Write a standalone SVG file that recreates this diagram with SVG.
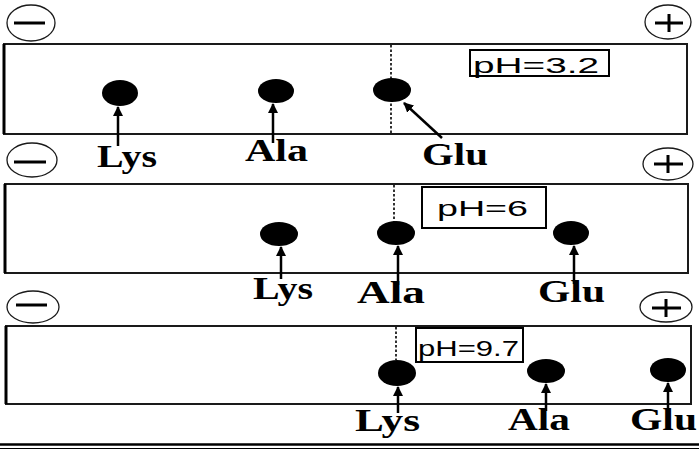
<svg xmlns="http://www.w3.org/2000/svg" width="699" height="450" viewBox="0 0 699 450">
<style>
.gel{fill:#fff;stroke:#1a1a1a;stroke-width:2}
.elec{fill:none;stroke:#1a1a1a;stroke-width:1.3}
.sign{stroke:#000;stroke-width:3}
.dot{fill:#000}
.ph{fill:#fff;stroke:#000;stroke-width:2}
.pht{font-family:"Liberation Sans",Arial,sans-serif;font-size:22px;fill:#000}
.lbl{font-family:"Liberation Serif","Times New Roman",serif;font-weight:bold;font-size:31px;fill:#000}
.dash{stroke:#000;stroke-width:1.6;stroke-dasharray:2.5,2}
.arr{stroke:#000;stroke-width:2.5;fill:none;marker-end:url(#ah)}
</style>
<defs>
<marker id="ah" viewBox="0 0 10 10" refX="9" refY="5" markerWidth="4" markerHeight="4" orient="auto" markerUnits="strokeWidth">
<path d="M0,0 L10,5 L0,10 z" fill="#000"/>
</marker>
</defs>
<rect width="699" height="450" fill="#fff"/>

<g id="panel1">
<rect class="gel" x="4" y="44" width="683" height="90"/>
<line x1="4" y1="44" x2="4" y2="134" stroke="#000" stroke-width="3"/>
<ellipse class="elec" cx="31" cy="23" rx="24" ry="18"/>
<line class="sign" x1="14" y1="23" x2="45" y2="23"/>
<ellipse class="elec" cx="668" cy="22" rx="23" ry="17"/>
<line class="sign" x1="655" y1="23" x2="683" y2="23"/>
<line class="sign" x1="669" y1="14" x2="669" y2="32"/>
<rect class="ph" x="470" y="50" width="139" height="26"/>
<text class="pht" x="473" y="73" font-size="24" textLength="126" lengthAdjust="spacingAndGlyphs">pH=3.2</text>
<line class="dash" x1="391" y1="45" x2="391" y2="133"/>
<ellipse class="dot" cx="120" cy="93" rx="18" ry="13"/>
<ellipse class="dot" cx="276" cy="91" rx="18" ry="12"/>
<ellipse class="dot" cx="392" cy="90" rx="19" ry="12"/>
</g>

<g id="panel2">
<rect class="gel" x="5" y="184" width="683" height="89"/>
<line x1="5" y1="184" x2="5" y2="273" stroke="#000" stroke-width="3"/>
<ellipse class="elec" cx="32" cy="160" rx="25" ry="17"/>
<line class="sign" x1="14" y1="162" x2="46" y2="162"/>
<ellipse class="elec" cx="668" cy="164" rx="25" ry="16"/>
<line class="sign" x1="654" y1="164" x2="683" y2="164"/>
<line class="sign" x1="668" y1="155" x2="668" y2="173"/>
<rect class="ph" x="422" y="187" width="124" height="41"/>
<text class="pht" x="437" y="216" font-size="27" textLength="91" lengthAdjust="spacingAndGlyphs">pH=6</text>
<line class="dash" x1="394" y1="185" x2="394" y2="222"/>
<ellipse class="dot" cx="279" cy="234" rx="19" ry="12"/>
<ellipse class="dot" cx="396" cy="233" rx="19" ry="12"/>
<ellipse class="dot" cx="571" cy="233" rx="18" ry="12"/>
</g>

<g id="panel3">
<rect class="gel" x="6" y="326" width="685" height="78"/>
<line x1="6" y1="326" x2="6" y2="404" stroke="#000" stroke-width="3"/>
<ellipse class="elec" cx="33" cy="307" rx="26" ry="16"/>
<line class="sign" x1="16" y1="305" x2="47" y2="305"/>
<ellipse class="elec" cx="666" cy="307" rx="26" ry="15"/>
<line class="sign" x1="652" y1="308" x2="681" y2="308"/>
<line class="sign" x1="666" y1="299" x2="666" y2="317"/>
<rect class="ph" x="416" y="328" width="107" height="34"/>
<text class="pht" x="418" y="356" font-size="24" textLength="101" lengthAdjust="spacingAndGlyphs">pH=9.7</text>
<line class="dash" x1="396" y1="327" x2="396" y2="360"/>
<ellipse class="dot" cx="397" cy="373" rx="19" ry="13"/>
<ellipse class="dot" cx="546" cy="371" rx="19" ry="12"/>
<ellipse class="dot" cx="668" cy="370" rx="18" ry="12"/>
</g>

<g id="labels">
<text class="lbl" x="97" y="167" textLength="60" lengthAdjust="spacingAndGlyphs">Lys</text>
<text class="lbl" x="245" y="161" textLength="63" lengthAdjust="spacingAndGlyphs">Ala</text>
<text class="lbl" x="422" y="165" textLength="66" lengthAdjust="spacingAndGlyphs">Glu</text>
<text class="lbl" x="253" y="299" textLength="60" lengthAdjust="spacingAndGlyphs">Lys</text>
<text class="lbl" x="357" y="303" textLength="68" lengthAdjust="spacingAndGlyphs">Ala</text>
<text class="lbl" x="538" y="302" textLength="67" lengthAdjust="spacingAndGlyphs">Glu</text>
<text class="lbl" x="355" y="431" textLength="65" lengthAdjust="spacingAndGlyphs">Lys</text>
<text class="lbl" x="508" y="430" textLength="62" lengthAdjust="spacingAndGlyphs">Ala</text>
<text class="lbl" x="630" y="430" textLength="67" lengthAdjust="spacingAndGlyphs">Glu</text>
</g>

<g id="connectors">
<line class="arr" x1="118" y1="146" x2="118" y2="107"/>
<line class="arr" x1="273" y1="143" x2="273" y2="104"/>
<line class="arr" x1="442" y1="138" x2="404" y2="103"/>
<line class="arr" x1="281" y1="279" x2="281" y2="247"/>
<line class="arr" x1="398" y1="285" x2="398" y2="246"/>
<line class="arr" x1="574" y1="284" x2="574" y2="246"/>
<line class="arr" x1="398" y1="413" x2="398" y2="387"/>
<line class="arr" x1="546" y1="411" x2="546" y2="384"/>
<line class="arr" x1="668" y1="411" x2="668" y2="383"/>
</g>

<g id="baseline">
<line x1="0" y1="444.5" x2="699" y2="444.5" stroke="#000" stroke-width="2.5"/>
<line x1="0" y1="448.5" x2="699" y2="448.5" stroke="#000" stroke-width="1.2"/>
</g>
</svg>
